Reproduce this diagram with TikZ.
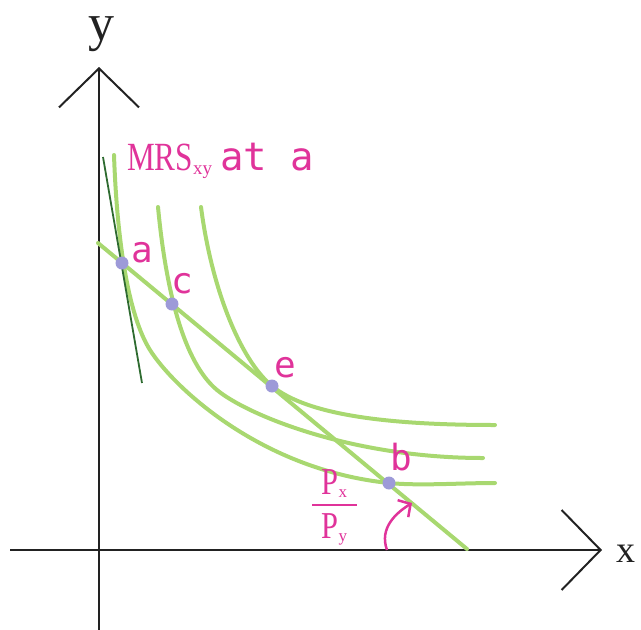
\documentclass[tikz,border=0pt]{standalone}
\usepackage{fontspec}
\usepackage{graphicx}
\setmainfont{Liberation Serif}
\newfontfamily\gothfont{DejaVu Sans Mono}
\usetikzlibrary{arrows.meta}
\definecolor{curvegreen}{HTML}{A8D870}
\definecolor{tangreen}{HTML}{2E6B30}
\definecolor{dotblue}{HTML}{9D9AD8}
\definecolor{labpink}{HTML}{E0339A}
\definecolor{axisgray}{HTML}{222222}
\tikzset{
  axisline/.style={draw=axisgray, line width=2pt, -{Straight Barb[length=39pt,width=80pt,line width=2pt]}},
  indiff/.style={draw=curvegreen, line width=4pt, line cap=round},
  budget/.style={draw=curvegreen, line width=4pt, line cap=round},
  tangent/.style={draw=tangreen, line width=1.8pt},
  bundle/.style={circle, fill=dotblue, inner sep=0pt, minimum size=13pt},
  ptlabel/.style={text=labpink, inner sep=0pt, anchor=base, font=\gothfont\fontsize{36}{36}\selectfont},
  axlabel/.style={text=axisgray, inner sep=0pt, anchor=base},
}
\begin{document}
\begin{tikzpicture}[x=1pt,y=-1pt]
\useasboundingbox (0,0) rectangle (641,630);
% axes
\coordinate (yb) at (99,630);
\coordinate (yt) at (99,67);
\coordinate (xl) at (10,550);
\coordinate (xr) at (602,550);
\draw[axisline] (yb) -- (yt);
\draw[axisline] (xl) -- (xr);
\node[axlabel, text height=24pt, font=\fontsize{52}{52}\selectfont] (ylab) at (101,40) {y};
\node[axlabel, anchor=base west, text height=18pt, font=\fontsize{38}{38}\selectfont] (xlab) at (616,562) {x};
% bundles
\coordinate (pa) at (122,263);
\coordinate (pc) at (172,304);
\coordinate (pe) at (272,386);
\coordinate (pb) at (389,483);
% indifference curves
\draw[indiff] (114,155) .. controls (117,240) and (128,315) .. (150,350)
  .. controls (174,388) and (262,470) .. (pb)
  .. controls (420,486) and (460,483) .. (495,483);
\draw[indiff] (158,207) .. controls (164,270) and (178.5,358) .. (217,390)
  .. controls (246.3,414.3) and (350,458) .. (483,458);
\draw[indiff] (201,207) .. controls (211.5,287.8) and (239.9,359.4) .. (pe)
  .. controls (307.4,415.4) and (389.4,425) .. (495,425);
% budget line
\coordinate (bs) at (98,243);
\coordinate (be) at (467,549);
\draw[budget] (bs) -- (be);
% tangent at a
\coordinate (t1) at (103,157);
\coordinate (t2) at (142,383);
\draw[tangent] (t1) -- (t2);
% dots
\node[bundle] (a) at (pa) {};
\node[bundle] (c) at (pc) {};
\node[bundle] (e) at (pe) {};
\node[bundle] (b) at (pb) {};
% labels
\node[ptlabel] (la) at (142,262) {a};
\node[ptlabel] (lc) at (182,293) {c};
\node[ptlabel] (le) at (285,377) {e};
\node[ptlabel] (lb) at (401,470) {b};
\node[text=labpink, inner sep=0pt, anchor=base west] (mrs) at (127,170)
  {\scalebox{0.78}[1]{\fontsize{40}{40}\selectfont MRS}\raisebox{-4pt}{\fontsize{19}{19}\selectfont xy}\hspace{8pt}{\gothfont\fontsize{39}{39}\selectfont at a}};
% price ratio
\node[text=labpink, inner sep=0pt, anchor=north] (ratio) at (334.5,494)
  {\vbox{\offinterlineskip
   \hbox to 45pt{\hss\smash{\scalebox{0.8}[1]{\fontsize{38}{38}\selectfont P}\raisebox{-3pt}{\fontsize{17}{17}\selectfont x}}\hss}
   \kern 10pt
   \hrule height 2pt
   \kern 32pt
   \hbox to 45pt{\hss\smash{\scalebox{0.8}[1]{\fontsize{38}{38}\selectfont P}\raisebox{-3pt}{\fontsize{17}{17}\selectfont y}}\hss}}};
\coordinate (arS) at (387,550);
\coordinate (arE) at (412,503);
\draw[labpink, line width=2.5pt, -{Straight Barb[length=9pt,width=20pt,line width=2.5pt]}] (arS) .. controls (379,528) and (396,513) .. (arE);
\end{tikzpicture}
\end{document}
